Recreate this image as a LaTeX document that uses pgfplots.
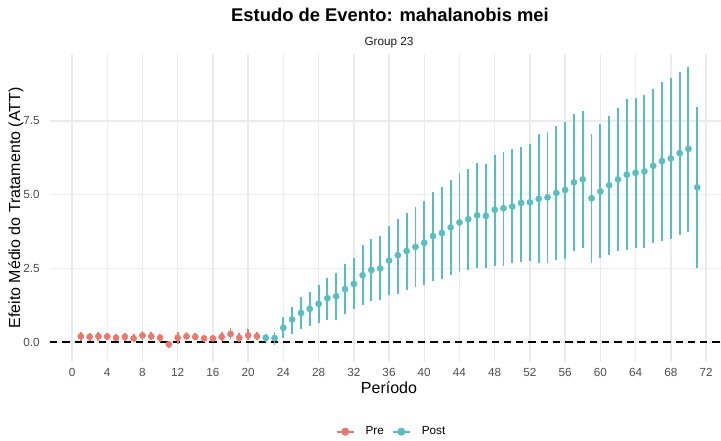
\documentclass[border=0pt]{standalone}
\usepackage{pgfplots}
\usepackage{pgfplotstable}
\pgfplotsset{compat=1.18}
\usepackage{fontspec}
\setmainfont{Liberation Sans}

\definecolor{preC}{HTML}{E8796F}
\definecolor{postC}{HTML}{58BEC3}
\definecolor{gridC}{HTML}{EBEBEB}
\definecolor{tickC}{HTML}{4D4D4D}
\definecolor{stripC}{HTML}{1A1A1A}

% period, estimate, lower and upper confidence bound
\pgfplotstableread{
t est lo hi
1 0.20 0.05 0.35
2 0.18 0.04 0.32
3 0.20 0.05 0.36
4 0.19 0.06 0.32
5 0.15 0.03 0.28
6 0.18 0.05 0.32
7 0.13 0.00 0.27
8 0.23 0.09 0.38
9 0.20 0.07 0.34
10 0.15 0.02 0.28
11 -0.07 -0.18 0.03
12 0.15 -0.06 0.34
13 0.20 0.07 0.34
14 0.18 0.06 0.30
15 0.13 0.02 0.25
16 0.13 0.03 0.24
17 0.18 0.04 0.33
18 0.28 0.10 0.48
19 0.15 0.01 0.30
20 0.23 0.06 0.44
21 0.20 0.08 0.33
}\pretab

\pgfplotstableread{
t est lo hi
22 0.15 0.02 0.28
23 0.14 -0.09 0.35
24 0.49 0.13 0.84
25 0.77 0.29 1.20
26 0.99 0.45 1.53
27 1.13 0.54 1.71
28 1.30 0.66 1.94
29 1.49 0.77 2.19
30 1.56 0.75 2.35
31 1.80 0.94 2.64
32 1.98 1.14 2.87
33 2.27 1.26 3.28
34 2.45 1.40 3.50
35 2.50 1.43 3.59
36 2.77 1.60 3.94
37 2.95 1.65 4.18
38 3.09 1.76 4.39
39 3.23 1.86 4.60
40 3.37 1.93 4.79
41 3.60 2.08 5.09
42 3.70 2.13 5.27
43 3.89 2.27 5.50
44 4.06 2.39 5.72
45 4.17 2.44 5.86
46 4.30 2.52 6.06
47 4.28 2.51 6.03
48 4.49 2.60 6.35
49 4.54 2.60 6.44
50 4.60 2.67 6.54
51 4.72 2.73 6.63
52 4.74 2.75 6.72
53 4.86 2.67 7.05
54 4.91 2.69 7.11
55 5.06 2.78 7.34
56 5.16 2.83 7.47
57 5.42 3.09 7.74
58 5.52 3.19 7.84
59 4.88 2.69 7.06
60 5.11 2.84 7.40
61 5.32 2.96 7.67
62 5.52 3.09 7.93
63 5.68 3.11 8.24
64 5.74 3.19 8.29
65 5.79 3.19 8.39
66 5.98 3.37 8.58
67 6.14 3.44 8.82
68 6.23 3.50 8.96
69 6.41 3.65 9.17
70 6.55 3.74 9.33
71 5.25 2.53 7.96
}\posttab

\begin{document}
\begin{tikzpicture}
\path[use as bounding box] (-37.5pt,-59.25pt) rectangle (503.25pt,271.5pt);
\begin{axis}[
  at={(0pt,0pt)}, anchor=south west,
  scale only axis, width=503.25pt, height=231pt,
  xmin=-2.5, xmax=73.7, ymin=-0.67, ymax=9.77,
  clip=false,
  axis line style={draw=none},
  tick style={draw=none},
  xtick={0,4,...,72},
  ytick={0,2.5,5,7.5},
  grid=major,
  major grid style={gridC, line width=1.07pt},
  /pgf/number format/assume math mode=true,
  tick label style={font=\fontsize{8.8}{10}\selectfont, text=tickC},
  xticklabel style={anchor=base, inner sep=0pt, yshift=-11.25pt},
  yticklabel style={anchor=east, inner sep=0pt, xshift=-7.5pt,
    /pgf/number format/.cd, fixed, fixed zerofill, precision=1},
  legend image code/.code={%
    \draw[#1, mark repeat=2, mark phase=2]
      plot coordinates {(0pt,0pt) (6.375pt,0pt) (12.75pt,0pt)};},
  legend columns=2,
  legend style={
    at={(axis description cs:0.5075,-0.2263)}, anchor=center,
    draw=none, fill=none, inner sep=0pt,
    font=\fontsize{8.8}{10}\selectfont,
    nodes={inner sep=0pt},
    /tikz/every odd column/.append style={column sep=8.25pt},
    /tikz/every even column/.append style={column sep=6pt}},
]
\addlegendimage{preC, line width=1.4pt, mark=*, mark size=2.3pt, mark options={solid}}
\addlegendentry{Pre}
\addlegendimage{postC, line width=1.4pt, mark=*, mark size=2.3pt, mark options={solid}}
\addlegendentry{Post}

% reference line at zero
\addplot[black, line width=1.1pt, dash pattern=on 5.5pt off 3.7pt, forget plot]
  coordinates {(-2.5,0) (73.7,0)};

\addplot[preC, only marks, mark=*, mark size=2.3pt, forget plot,
  error bars/.cd, y dir=both, y explicit, error mark=none,
  error bar style={line width=1.4pt, preC}]
  table[x=t, y=est,
    y error plus expr=\thisrow{hi}-\thisrow{est},
    y error minus expr=\thisrow{est}-\thisrow{lo}] {\pretab};

\addplot[postC, only marks, mark=*, mark size=2.3pt, forget plot,
  error bars/.cd, y dir=both, y explicit, error mark=none,
  error bar style={line width=1.4pt, postC}]
  table[x=t, y=est,
    y error plus expr=\thisrow{hi}-\thisrow{est},
    y error minus expr=\thisrow{est}-\thisrow{lo}] {\posttab};

\node[anchor=base, font=\bfseries\fontsize{13.8}{16}\selectfont]
  at (axis description cs:0.5067,1.1039) {Estudo de Evento: mahalanobis mei};
\node[anchor=base, text=stripC, font=\fontsize{8.8}{10}\selectfont]
  at (axis description cs:0.5052,1.026) {Group 23};
\node[anchor=base, font=\fontsize{12}{14}\selectfont]
  at (axis description cs:0.5052,-0.1039) {Período};
\node[anchor=base, rotate=90, font=\fontsize{12}{14}\selectfont]
  at (axis description cs:-0.0447,0.5) {Efeito Médio do Tratamento (ATT)};
\end{axis}
\end{tikzpicture}
\end{document}
